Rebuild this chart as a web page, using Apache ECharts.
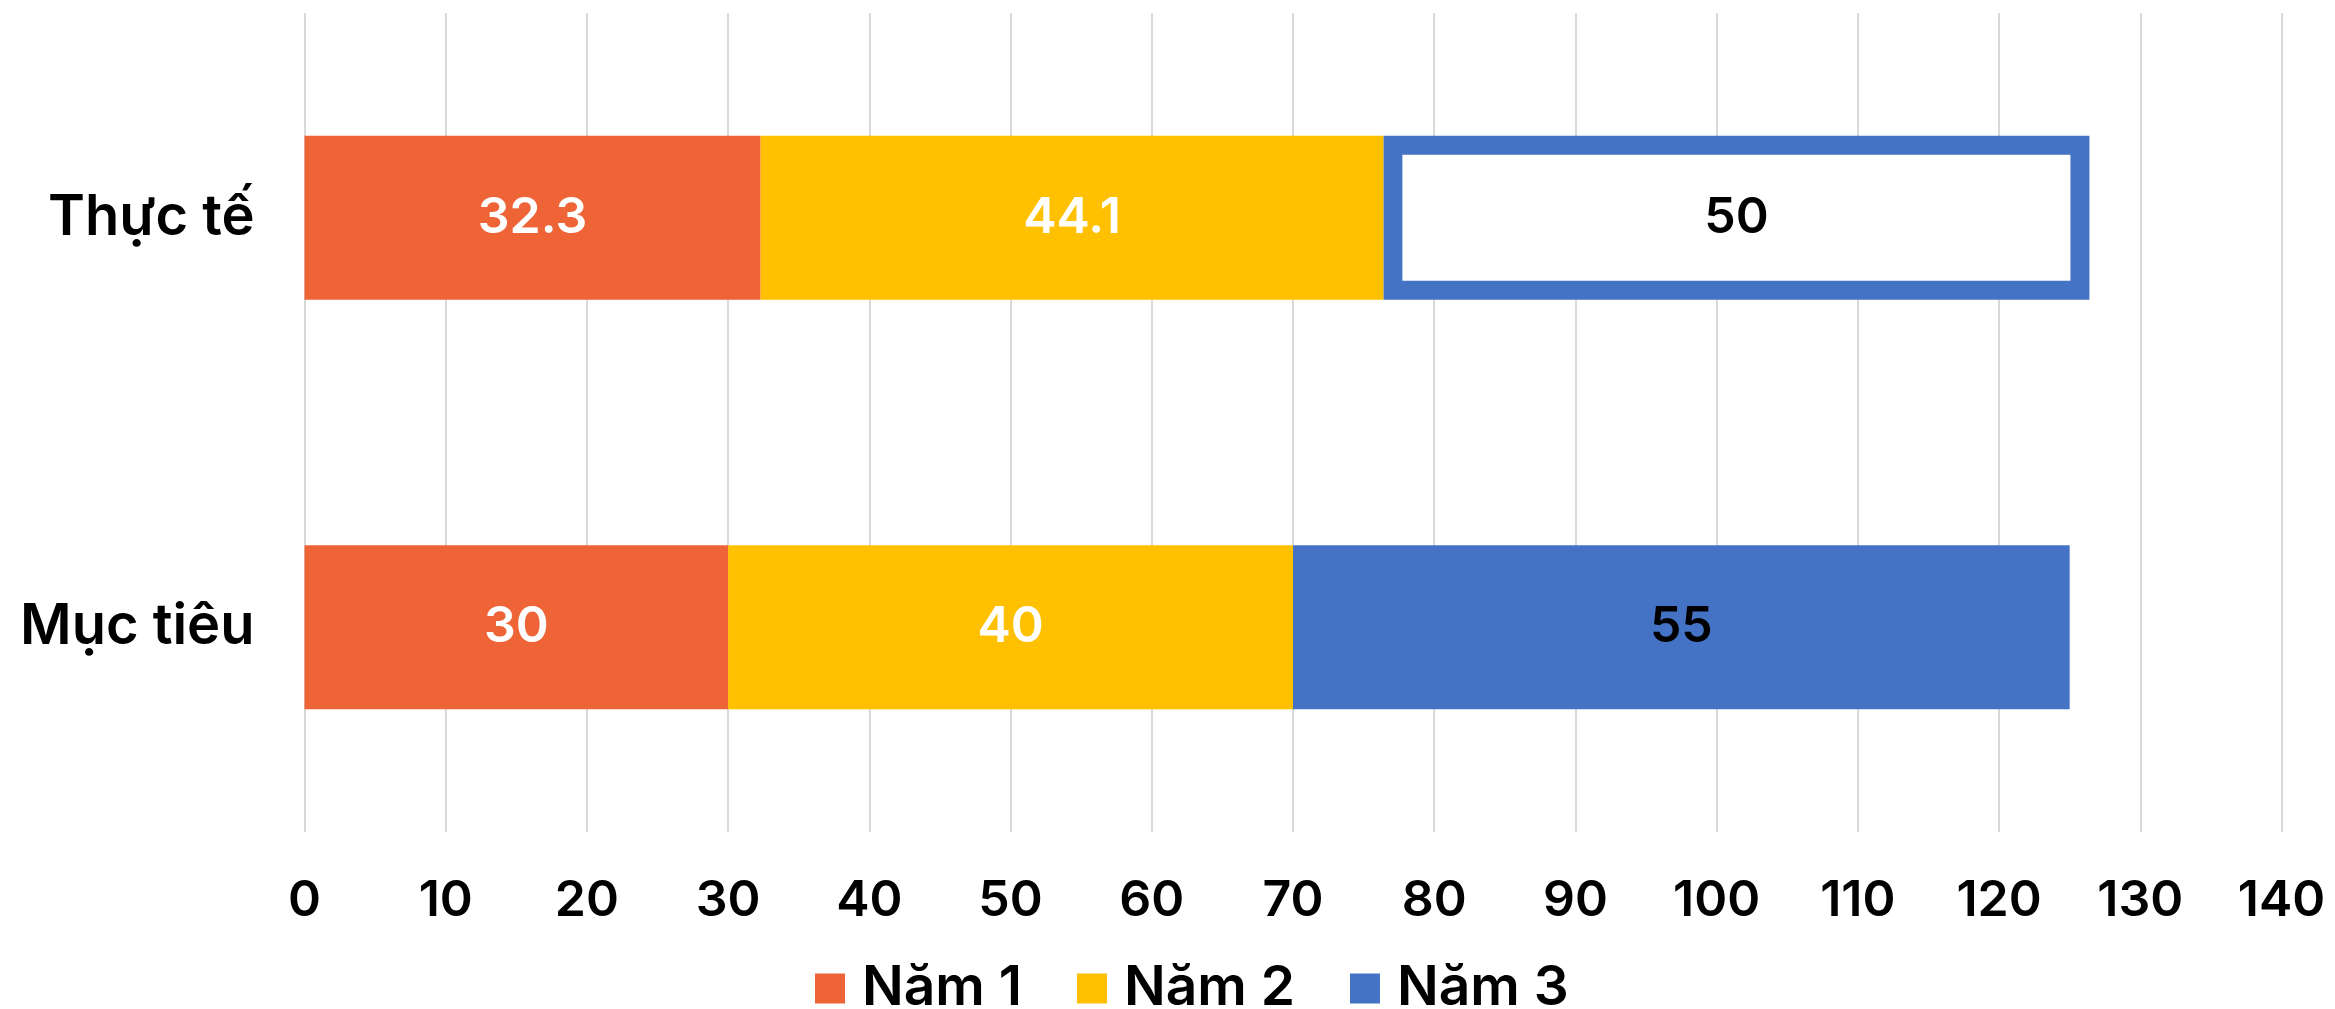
<!DOCTYPE html>
<html>
<head>
<meta charset="utf-8">
<script src="https://cdn.jsdelivr.net/npm/echarts@6/dist/echarts.min.js"></script>
<style>html,body{margin:0;padding:0;background:#fff}#c{width:2335px;height:1009px}</style>
</head>
<body>
<div id="c"></div>
<script>
const categories = ['Mục tiêu', 'Thực tế'];
const seriesNames = ['Năm 1', 'Năm 2', 'Năm 3'];
const nam1 = [30, 32.3];
const nam2 = [40, 44.1];
const nam3 = [55, 50];
const xTicks = [0, 140, 10];

const FONT = 'Inter';
const colors = ['#EE6436', '#FFC000', '#4472C4'];
const outlinedIndex = 1; // "Thực tế" Năm 3 drawn as outlined box
const outlineStart = nam1[outlinedIndex] + nam2[outlinedIndex];
const outlineEnd = outlineStart + nam3[outlinedIndex];

const chart = echarts.init(document.getElementById('c'), null, {renderer: 'canvas'});

function barLabel(color) {
  return {show: true, position: 'inside', color: color, fontFamily: FONT, fontSize: 50, fontWeight: 600};
}

chart.setOption({
  animation: false,
  backgroundColor: '#fff',
  grid: {left: 304.5, right: 53.5, top: 13, bottom: 177, containLabel: false},
  xAxis: {
    type: 'value', min: xTicks[0], max: xTicks[1], interval: xTicks[2],
    axisLine: {show: false}, axisTick: {show: false},
    splitLine: {show: true, lineStyle: {color: '#D9D9D9', width: 2}},
    axisLabel: {color: '#000', fontFamily: FONT, fontSize: 50, fontWeight: 600, margin: 44}
  },
  yAxis: {
    type: 'category', data: categories,
    axisLine: {show: false}, axisTick: {show: false},
    axisLabel: {color: '#000', fontFamily: FONT, fontSize: 56, fontWeight: 600, margin: 50}
  },
  legend: {
    data: seriesNames, left: 810, top: 956,
    itemWidth: 30, itemHeight: 30, itemGap: 55, icon: 'rect',
    textStyle: {color: '#000', fontFamily: FONT, fontSize: 55, fontWeight: 600, padding: [0, 0, 0, 12]}
  },
  series: [
    {name: seriesNames[0], type: 'bar', stack: 'all', barCategoryGap: '60%', data: nam1,
     itemStyle: {color: colors[0]}, label: barLabel('#fff'), z: 2},
    {name: seriesNames[1], type: 'bar', stack: 'all', barCategoryGap: '60%', data: nam2,
     itemStyle: {color: colors[1]}, label: barLabel('#fff'), z: 2},
    {name: seriesNames[2], type: 'bar', stack: 'all', barCategoryGap: '60%',
     data: nam3.map((v, i) => i === outlinedIndex ? {value: v, itemStyle: {color: 'rgba(0,0,0,0)'}} : v),
     itemStyle: {color: colors[2]}, label: barLabel('#000'), z: 2},
    {name: 'outline', type: 'custom', z: 1, silent: true,
     data: [[outlineStart, outlineEnd, outlinedIndex]],
     encode: {x: [0, 1], y: 2},
     renderItem: function (params, api) {
       const cat = api.value(2);
       const a = api.coord([api.value(0), cat]);
       const b = api.coord([api.value(1), cat]);
       const h = api.size([0, 1])[1] * 0.4;
       const bw = 19;
       return {
         type: 'rect',
         shape: {x: a[0] + bw / 2, y: a[1] - h / 2 + bw / 2, width: b[0] - a[0] - bw, height: h - bw},
         style: {fill: '#fff', stroke: colors[2], lineWidth: bw}
       };
     }}
  ]
});
</script>
</body>
</html>
